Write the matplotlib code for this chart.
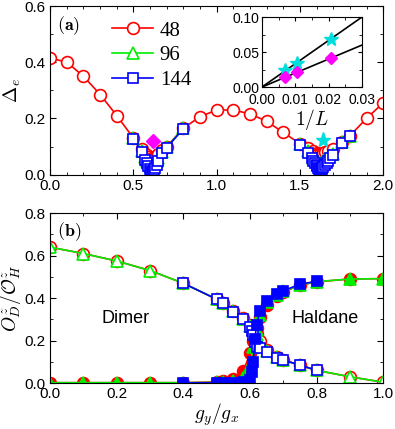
import matplotlib
matplotlib.use('Agg')
import matplotlib.pyplot as plt
from matplotlib.ticker import MultipleLocator

plt.rcParams['font.family'] = 'Liberation Sans'
plt.rcParams['mathtext.fontset'] = 'cm'

RED = '#ff0000'
GREEN = '#00ee00'
BLUE = '#0000ff'

# ---- panel (a): gap vs gy/gx ----
gap48_x = [0.0, 0.1, 0.2, 0.3, 0.4, 0.5, 0.55, 0.57, 0.58, 0.59, 0.6, 0.61, 0.62, 0.63, 0.64, 0.65, 0.67, 0.7, 0.8,
           0.9, 1.0, 1.1, 1.2, 1.3, 1.4, 1.5, 1.55, 1.58, 1.6, 1.61, 1.62, 1.63, 1.64, 1.65, 1.67, 1.7, 1.75, 1.8, 1.9, 2.0]
gap48_y = [0.415, 0.40, 0.35, 0.285, 0.21, 0.13, 0.09, 0.075, 0.068, 0.062, 0.057, 0.055, 0.057, 0.062, 0.068, 0.075, 0.088, 0.10, 0.165,
           0.206, 0.23, 0.23, 0.216, 0.19, 0.15, 0.11, 0.096, 0.085, 0.078, 0.075, 0.073, 0.074, 0.076, 0.079, 0.085, 0.092, 0.115, 0.138, 0.20, 0.255]

# L = 96, first and second dip
gap96_x1 = [0.5, 0.55, 0.57, 0.58, 0.59, 0.6, 0.61, 0.62, 0.63, 0.64, 0.65, 0.67, 0.7, 0.8]
gap96_y1 = [0.13, 0.085, 0.062, 0.05, 0.04, 0.03, 0.025, 0.03, 0.04, 0.05, 0.06, 0.08, 0.098, 0.165]
gap96_x2 = [1.5, 1.55, 1.58, 1.6, 1.61, 1.62, 1.63, 1.64, 1.65, 1.67, 1.7, 1.75, 1.8]
gap96_y2 = [0.108, 0.085, 0.06, 0.05, 0.045, 0.042, 0.044, 0.048, 0.055, 0.062, 0.075, 0.115, 0.138]

# L = 144, first and second dip
gap144_x1 = [0.5, 0.55, 0.57, 0.58, 0.59, 0.6, 0.605, 0.61, 0.615, 0.62, 0.625, 0.63, 0.64, 0.65, 0.67, 0.7, 0.8]
gap144_y1 = [0.128, 0.08, 0.052, 0.04, 0.03, 0.02, 0.012, 0.006, 0.004, 0.01, 0.018, 0.025, 0.035, 0.05, 0.078, 0.096, 0.163]
gap144_x2 = [1.5, 1.55, 1.57, 1.58, 1.59, 1.6, 1.605, 1.61, 1.615, 1.62, 1.625, 1.63, 1.635, 1.64, 1.65, 1.66, 1.67, 1.68, 1.7, 1.75, 1.8]
gap144_y2 = [0.106, 0.078, 0.06, 0.05, 0.042, 0.035, 0.03, 0.025, 0.021, 0.018, 0.018, 0.02, 0.024, 0.028, 0.035, 0.042, 0.05, 0.058, 0.07, 0.113, 0.138]

# extrapolated gaps shown as single symbols
diamond_pt = (0.62, 0.12)
star_pt = (1.64, 0.124)

# ---- inset: gap vs 1/L ----
invL = [1 / 144, 1 / 96, 1 / 48]
star_gap = [0.025, 0.035, 0.069]
diamond_gap = [0.015, 0.022, 0.042]
fit_x = [0.0, 0.03]
star_fit = [0.0, 0.10]
diamond_fit = [0.0, 0.06]

# ---- panel (b): order parameters ----
op_x = [0.0, 0.1, 0.2, 0.3, 0.4, 0.5, 0.52, 0.55, 0.58, 0.6, 0.61, 0.62, 0.63, 0.65, 0.68, 0.7, 0.75, 0.8, 0.9, 1.0]
dim48 = [0.64, 0.61, 0.575, 0.53, 0.47, 0.395, 0.378, 0.34, 0.305, 0.275, 0.255, 0.232, 0.2, 0.158, 0.125, 0.11, 0.085, 0.06, 0.03, 0.004]
hal48 = [0.002, 0.002, 0.002, 0.002, 0.002, 0.006, 0.009, 0.018, 0.055, 0.14, 0.2, 0.26, 0.31, 0.37, 0.41, 0.43, 0.46, 0.477, 0.49, 0.492]
dim96 = [0.64, 0.61, 0.575, 0.53, 0.47, 0.395, 0.376, 0.338, 0.302, 0.27, 0.25, 0.225, 0.185, 0.15, 0.122, 0.108, 0.084, 0.06, 0.03, 0.004]
hal96 = [0.002, 0.002, 0.002, 0.002, 0.002, 0.003, 0.004, 0.008, 0.025, 0.08, 0.17, 0.25, 0.32, 0.38, 0.415, 0.432, 0.462, 0.478, 0.49, 0.492]

op144_x = [0.4, 0.5, 0.52, 0.55, 0.58, 0.6, 0.605, 0.61, 0.615, 0.62, 0.63, 0.65, 0.68, 0.7, 0.75, 0.8]
dim144 = [0.47, 0.395, 0.375, 0.337, 0.30, 0.265, 0.245, 0.225, 0.195, 0.17, 0.165, 0.145, 0.12, 0.108, 0.085, 0.06]
hal144 = [0.001, 0.001, 0.001, 0.002, 0.005, 0.015, 0.05, 0.1, 0.21, 0.275, 0.34, 0.385, 0.42, 0.435, 0.465, 0.48]

fig = plt.figure(figsize=(3.95, 4.29), dpi=100)
ax1 = fig.add_axes([0.127, 0.593, 0.843, 0.393])
ax2 = fig.add_axes([0.127, 0.107, 0.843, 0.396])


def style_axis(ax):
    ax.tick_params(which='both', direction='in', top=True, right=True, labelsize=11, pad=3)
    ax.tick_params(which='major', length=4)
    ax.tick_params(which='minor', length=2.5)


sty48 = dict(color=RED, mfc='white', mec=RED, ms=8.5, mew=1.2, lw=1.2)
sty96 = dict(color=GREEN, mfc='white', mec=GREEN, ms=9, mew=1.2, lw=1.2)
sty144 = dict(color=BLUE, mfc='white', mec=BLUE, ms=7.5, mew=1.2, lw=1.2)

# panel (a)
ax1.plot(gap48_x, gap48_y, '-o', label='48', **sty48)
ax1.plot(gap96_x1, gap96_y1, '-^', label='96', **sty96)
ax1.plot(gap96_x2, gap96_y2, '-^', **sty96)
ax1.plot(gap144_x1, gap144_y1, '-s', label='144', **sty144)
ax1.plot(gap144_x2, gap144_y2, '-s', **sty144)
ax1.plot(*diamond_pt, 'D', color='#ff00ff', ms=7)
ax1.plot(*star_pt, '*', color='#00dddd', ms=11)
ax1.set_xlim(0, 2)
ax1.set_ylim(0, 0.6)
ax1.xaxis.set_major_locator(MultipleLocator(0.5))
ax1.xaxis.set_minor_locator(MultipleLocator(0.1))
ax1.yaxis.set_major_locator(MultipleLocator(0.2))
ax1.yaxis.set_minor_locator(MultipleLocator(0.1))
ax1.xaxis.set_major_formatter(lambda v, p: f'{v:.1f}')
ax1.yaxis.set_major_formatter(lambda v, p: f'{v:.1f}')
style_axis(ax1)
ax1.set_ylabel(r'$\Delta_e$', fontsize=14, labelpad=1)
ax1.text(0.02, 0.95, r'$\mathbf{(a)}$', transform=ax1.transAxes, fontsize=13, va='top', ha='left')
ax1.legend(loc='upper left', bbox_to_anchor=(0.16, 0.96), frameon=False, handlelength=2.0,
           handletextpad=0.3, labelspacing=0.25, borderaxespad=0,
           prop={'family': 'Liberation Serif', 'size': 15})

# inset
axin = fig.add_axes([0.663, 0.797, 0.253, 0.163])
axin.plot(fit_x, star_fit, '-', color='black', lw=1.2)
axin.plot(fit_x, diamond_fit, '-', color='black', lw=1.2)
axin.plot(invL, star_gap, '*', color='#00dddd', ms=10)
axin.plot(invL, diamond_gap, 'D', color='#ff00ff', ms=6.5)
axin.set_xlim(0, 0.03)
axin.set_ylim(0, 0.1)
axin.xaxis.set_major_locator(MultipleLocator(0.01))
axin.xaxis.set_minor_locator(MultipleLocator(0.005))
axin.yaxis.set_major_locator(MultipleLocator(0.05))
axin.yaxis.set_minor_locator(MultipleLocator(0.025))
axin.xaxis.set_major_formatter(lambda v, p: f'{v:.2f}')
axin.yaxis.set_major_formatter(lambda v, p: f'{v:.2f}')
axin.tick_params(which='both', direction='in', top=True, right=True, labelsize=10)
axin.tick_params(axis='x', pad=4)
axin.tick_params(axis='y', pad=2)
axin.tick_params(which='major', length=3)
axin.tick_params(which='minor', length=2)
axin.set_xlabel(r'$1/L$', fontsize=14, labelpad=0)

# panel (b)
ax2.plot(op_x, dim48, '-o', **sty48)
ax2.plot(op_x, hal48, '-o', **{**sty48, 'mfc': RED})
ax2.plot(op_x, dim96, '-^', **sty96)
ax2.plot(op_x, hal96, '-^', **{**sty96, 'mfc': GREEN})
ax2.plot(op144_x, dim144, '-s', **sty144)
ax2.plot(op144_x, hal144, '-s', **{**sty144, 'mfc': BLUE})
ax2.set_xlim(0, 1)
ax2.set_ylim(0, 0.8)
ax2.xaxis.set_major_locator(MultipleLocator(0.2))
ax2.xaxis.set_minor_locator(MultipleLocator(0.1))
ax2.yaxis.set_major_locator(MultipleLocator(0.2))
ax2.yaxis.set_minor_locator(MultipleLocator(0.1))
ax2.xaxis.set_major_formatter(lambda v, p: f'{v:.1f}')
ax2.yaxis.set_major_formatter(lambda v, p: f'{v:.1f}')
style_axis(ax2)
ax2.set_xlabel(r'$g_y/g_x$', fontsize=14, labelpad=0)
ax2.set_ylabel(r'$O^z_D/\mathcal{O}^z_H$', fontsize=14, labelpad=1)
ax2.text(0.02, 0.96, r'$\mathbf{(b)}$', transform=ax2.transAxes, fontsize=13, va='top', ha='left')
ax2.text(0.225, 0.305, 'Dimer', fontsize=13, ha='center', va='center')
ax2.text(0.826, 0.305, 'Haldane', fontsize=13, ha='center', va='center')

fig.savefig('out.png', dpi=100)
